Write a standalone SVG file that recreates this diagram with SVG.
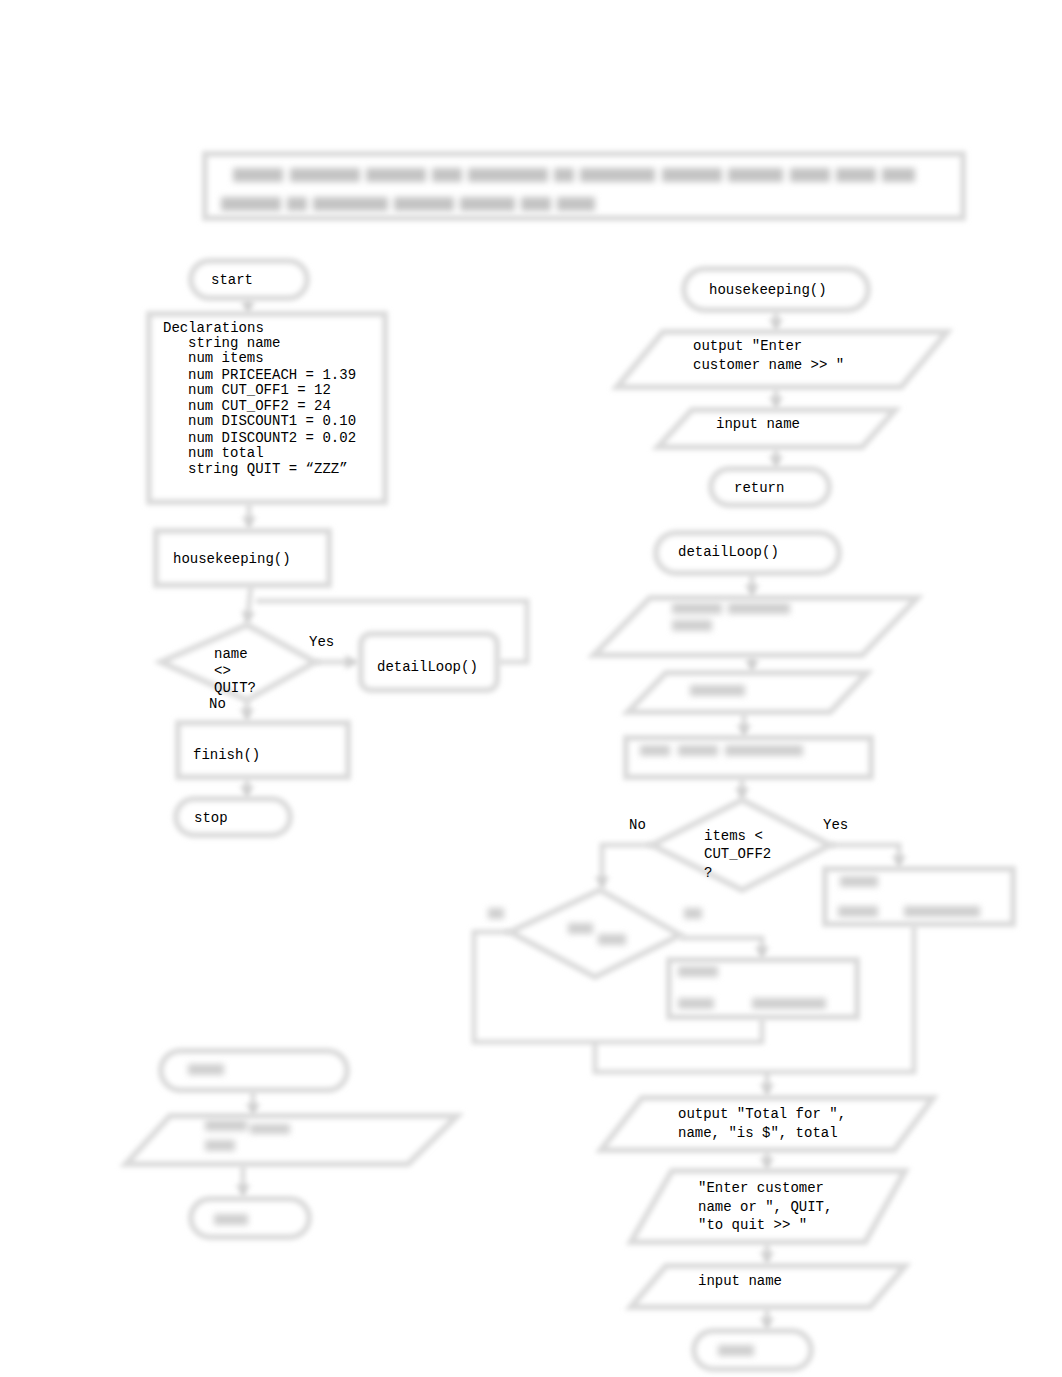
<svg xmlns="http://www.w3.org/2000/svg" width="1062" height="1377" viewBox="0 0 1062 1377">
<defs>
<filter id="blur" filterUnits="userSpaceOnUse" x="0" y="0" width="1062" height="1377"><feGaussianBlur stdDeviation="2.6"/></filter>
<filter id="blur2" filterUnits="userSpaceOnUse" x="0" y="0" width="1062" height="1377"><feGaussianBlur stdDeviation="3.4"/></filter>
<marker id="ah" viewBox="0 0 10 10" refX="9" refY="5" markerWidth="14" markerHeight="14" markerUnits="userSpaceOnUse" orient="auto"><path d="M0,0 L10,5 L0,10 z" fill="#d0d0d0"/></marker>
<style>
.s{fill:#fff;stroke:#dadada;stroke-width:6}
.c{fill:none;stroke:#dadada;stroke-width:5}
.ca{fill:none;stroke:#dadada;stroke-width:5;marker-end:url(#ah)}
.t{font-family:"Liberation Mono","DejaVu Sans Mono",monospace;font-size:14px;fill:#000}
.bl{fill:#cfcfcf}
.bd{fill:#c4c4c4}
</style>
</defs>
<rect width="1062" height="1377" fill="#fff"/>

<g id="header">
<rect class="s" x="205" y="154" width="758" height="64" filter="url(#blur)" stroke-width="7"/>
<g filter="url(#blur2)">
<rect class="bd" x="233" y="168" width="50" height="14"/><rect class="bd" x="290" y="168" width="70" height="14"/><rect class="bd" x="366" y="168" width="60" height="14"/><rect class="bd" x="432" y="168" width="30" height="14"/><rect class="bd" x="468" y="168" width="80" height="14"/><rect class="bd" x="554" y="168" width="20" height="14"/><rect class="bd" x="580" y="168" width="75" height="14"/><rect class="bd" x="662" y="168" width="60" height="14"/><rect class="bd" x="728" y="168" width="55" height="14"/><rect class="bd" x="790" y="168" width="40" height="14"/><rect class="bd" x="836" y="168" width="40" height="14"/><rect class="bd" x="882" y="168" width="33" height="14"/>
<rect class="bd" x="221" y="197" width="60" height="14"/><rect class="bd" x="287" y="197" width="20" height="14"/><rect class="bd" x="313" y="197" width="75" height="14"/><rect class="bd" x="394" y="197" width="60" height="14"/><rect class="bd" x="460" y="197" width="55" height="14"/><rect class="bd" x="521" y="197" width="30" height="14"/><rect class="bd" x="557" y="197" width="38" height="14"/>
</g>
</g>

<g id="connectors" filter="url(#blur)">
<path class="ca" d="M248,298 V314"/>
<path class="ca" d="M249,503 V529"/>
<path class="ca" d="M251,585 L247,624"/>
<path class="c" d="M498,662 H527 V601 H256"/>
<path class="ca" d="M315,662 H358"/>
<path class="ca" d="M247,700 V721"/>
<path class="ca" d="M247,778 V798"/>
<path class="ca" d="M776,310 V331"/>
<path class="ca" d="M776,388 V409"/>
<path class="ca" d="M776,448 V468"/>
<path class="ca" d="M752,573 V597"/>
<path class="ca" d="M752,655 V672"/>
<path class="ca" d="M744,712 V737"/>
<path class="ca" d="M742,777 V800"/>
<path class="ca" d="M830,845 H899 V868"/>
<path class="ca" d="M652,845 H602 V889"/>
<path class="ca" d="M680,938 H762 V959"/>
<path class="c" d="M510,932 H474 V1042 H762 V1018"/>
<path class="c" d="M595,1042 V1072 H914 V925"/>
<path class="ca" d="M767,1072 V1096"/>
<path class="ca" d="M767,1150 V1170"/>
<path class="ca" d="M767,1242 V1264"/>
<path class="ca" d="M767,1308 V1330"/>
<path class="ca" d="M253,1090 V1116"/>
<path class="ca" d="M243,1165 V1197"/>
</g>

<g id="start">
<rect class="s" x="191" y="261" width="116" height="37" rx="18.5" filter="url(#blur)"/>
<text class="t" x="211" y="284">start</text>
</g>

<g id="declarations">
<rect class="s" x="149" y="314" width="236" height="188" filter="url(#blur)" stroke-width="7"/>
<text class="t" x="163" y="332">Declarations</text>
<text class="t" x="188" y="347">string name</text>
<text class="t" x="188" y="362">num items</text>
<text class="t" x="188" y="379">num PRICEEACH = 1.39</text>
<text class="t" x="188" y="394">num CUT_OFF1 = 12</text>
<text class="t" x="188" y="410">num CUT_OFF2 = 24</text>
<text class="t" x="188" y="425">num DISCOUNT1 = 0.10</text>
<text class="t" x="188" y="442">num DISCOUNT2 = 0.02</text>
<text class="t" x="188" y="457">num total</text>
<text class="t" x="188" y="473">string QUIT = “ZZZ”</text>
</g>

<g id="main-housekeeping">
<rect class="s" x="156" y="531" width="173" height="54" filter="url(#blur)" stroke-width="7"/>
<text class="t" x="173" y="563">housekeeping()</text>
</g>

<g id="main-decision">
<path class="s" d="M247,625 L315,662 L247,700 L161,662 Z" filter="url(#blur)"/>
<text class="t" x="214" y="658">name</text>
<text class="t" x="214" y="675">&lt;&gt;</text>
<text class="t" x="214" y="692">QUIT?</text>
<text class="t" x="209" y="708">No</text>
<text class="t" x="309" y="646">Yes</text>
</g>

<g id="main-detailLoop">
<rect class="s" x="361" y="634" width="136" height="56" rx="10" filter="url(#blur)" stroke-width="7"/>
<text class="t" x="377" y="671">detailLoop()</text>
</g>

<g id="main-finish">
<rect class="s" x="178" y="723" width="170" height="54" filter="url(#blur)" stroke-width="7"/>
<text class="t" x="193" y="759">finish()</text>
</g>

<g id="stop">
<rect class="s" x="176" y="799" width="114" height="36" rx="18" filter="url(#blur)"/>
<text class="t" x="194" y="822">stop</text>
</g>

<g id="hk-start">
<rect class="s" x="684" y="269" width="184" height="41" rx="20.5" filter="url(#blur)" stroke-width="7"/>
<text class="t" x="709" y="294">housekeeping()</text>
</g>

<g id="hk-output">
<path class="s" d="M663,332 L947,332 L901,387 L617,387 Z" filter="url(#blur)"/>
<text class="t" x="693" y="350">output "Enter</text>
<text class="t" x="693" y="369">customer name &gt;&gt; "</text>
</g>

<g id="hk-input">
<path class="s" d="M692,410 L895,410 L862,447 L658,447 Z" filter="url(#blur)"/>
<text class="t" x="716" y="428">input name</text>
</g>

<g id="hk-return">
<rect class="s" x="711" y="469" width="118" height="36" rx="18" filter="url(#blur)"/>
<text class="t" x="734" y="492">return</text>
</g>

<g id="dl-start">
<rect class="s" x="656" y="533" width="183" height="40" rx="20" filter="url(#blur)" stroke-width="7"/>
<text class="t" x="678" y="556">detailLoop()</text>
</g>

<g id="dl-output">
<path class="s" d="M650,598 L917,598 L862,655 L594,655 Z" filter="url(#blur)"/>
<g filter="url(#blur2)"><rect class="bl" x="672" y="603" width="50" height="11"/><rect class="bl" x="728" y="603" width="62" height="11"/><rect class="bl" x="672" y="620" width="40" height="11"/></g>
</g>

<g id="dl-input">
<path class="s" d="M666,673 L867,673 L830,712 L628,712 Z" filter="url(#blur)"/>
<g filter="url(#blur2)"><rect class="bl" x="690" y="685" width="55" height="11"/></g>
</g>

<g id="dl-process">
<rect class="s" x="626" y="738" width="245" height="39" filter="url(#blur)" stroke-width="7"/>
<g filter="url(#blur2)"><rect class="bl" x="640" y="745" width="30" height="11"/><rect class="bl" x="678" y="745" width="40" height="11"/><rect class="bl" x="725" y="745" width="78" height="11"/></g>
</g>

<g id="dl-decision1">
<path class="s" d="M742,800 L830,845 L742,890 L652,845 Z" filter="url(#blur)"/>
<text class="t" x="704" y="840">items &lt;</text>
<text class="t" x="704" y="858">CUT_OFF2</text>
<text class="t" x="704" y="877">?</text>
<text class="t" x="629" y="829">No</text>
<text class="t" x="823" y="829">Yes</text>
</g>

<g id="dl-yes-box">
<rect class="s" x="825" y="869" width="188" height="55" filter="url(#blur)" stroke-width="7"/>
<g filter="url(#blur2)"><rect class="bl" x="840" y="876" width="38" height="11"/><rect class="bl" x="838" y="906" width="40" height="11"/><rect class="bl" x="904" y="906" width="76" height="11"/></g>
</g>

<g id="dl-decision2">
<path class="s" d="M600,890 L680,935 L595,977 L510,932 Z" filter="url(#blur)"/>
<g filter="url(#blur2)"><rect class="bl" x="488" y="908" width="16" height="11"/><rect class="bl" x="684" y="908" width="18" height="11"/><rect class="bl" x="568" y="923" width="25" height="11"/><rect class="bl" x="598" y="934" width="28" height="11"/></g>
</g>

<g id="dl-no-box">
<rect class="s" x="669" y="960" width="188" height="57" filter="url(#blur)" stroke-width="7"/>
<g filter="url(#blur2)"><rect class="bl" x="678" y="966" width="40" height="11"/><rect class="bl" x="678" y="998" width="36" height="11"/><rect class="bl" x="752" y="998" width="74" height="11"/></g>
</g>

<g id="dl-total-output">
<path class="s" d="M642,1098 L933,1098 L894,1150 L601,1150 Z" filter="url(#blur)"/>
<text class="t" x="678" y="1118">output "Total for ",</text>
<text class="t" x="678" y="1137">name, "is $", total</text>
</g>

<g id="dl-prompt-output">
<path class="s" d="M672,1171 L905,1171 L865,1242 L631,1242 Z" filter="url(#blur)"/>
<text class="t" x="698" y="1192">"Enter customer</text>
<text class="t" x="698" y="1211">name or ", QUIT,</text>
<text class="t" x="698" y="1229">"to quit &gt;&gt; "</text>
</g>

<g id="dl-input2">
<path class="s" d="M666,1266 L905,1266 L870,1307 L631,1307 Z" filter="url(#blur)"/>
<text class="t" x="698" y="1285">input name</text>
</g>

<g id="dl-return">
<rect class="s" x="694" y="1331" width="117" height="38" rx="19" filter="url(#blur)"/>
<g filter="url(#blur2)"><rect class="bl" x="718" y="1345" width="36" height="11"/></g>
</g>

<g id="finish-start">
<rect class="s" x="161" y="1051" width="186" height="39" rx="19.5" filter="url(#blur)" stroke-width="7"/>
<g filter="url(#blur2)"><rect class="bl" x="188" y="1064" width="36" height="11"/></g>
</g>

<g id="finish-output">
<path class="s" d="M170,1116 L457,1116 L408,1164 L126,1164 Z" filter="url(#blur)"/>
<g filter="url(#blur2)"><rect class="bl" x="205" y="1120" width="42" height="11"/><rect class="bl" x="250" y="1124" width="40" height="10"/><rect class="bl" x="205" y="1140" width="30" height="11"/></g>
</g>

<g id="finish-return">
<rect class="s" x="191" y="1199" width="118" height="38" rx="19" filter="url(#blur)"/>
<g filter="url(#blur2)"><rect class="bl" x="214" y="1214" width="34" height="11"/></g>
</g>
</svg>
